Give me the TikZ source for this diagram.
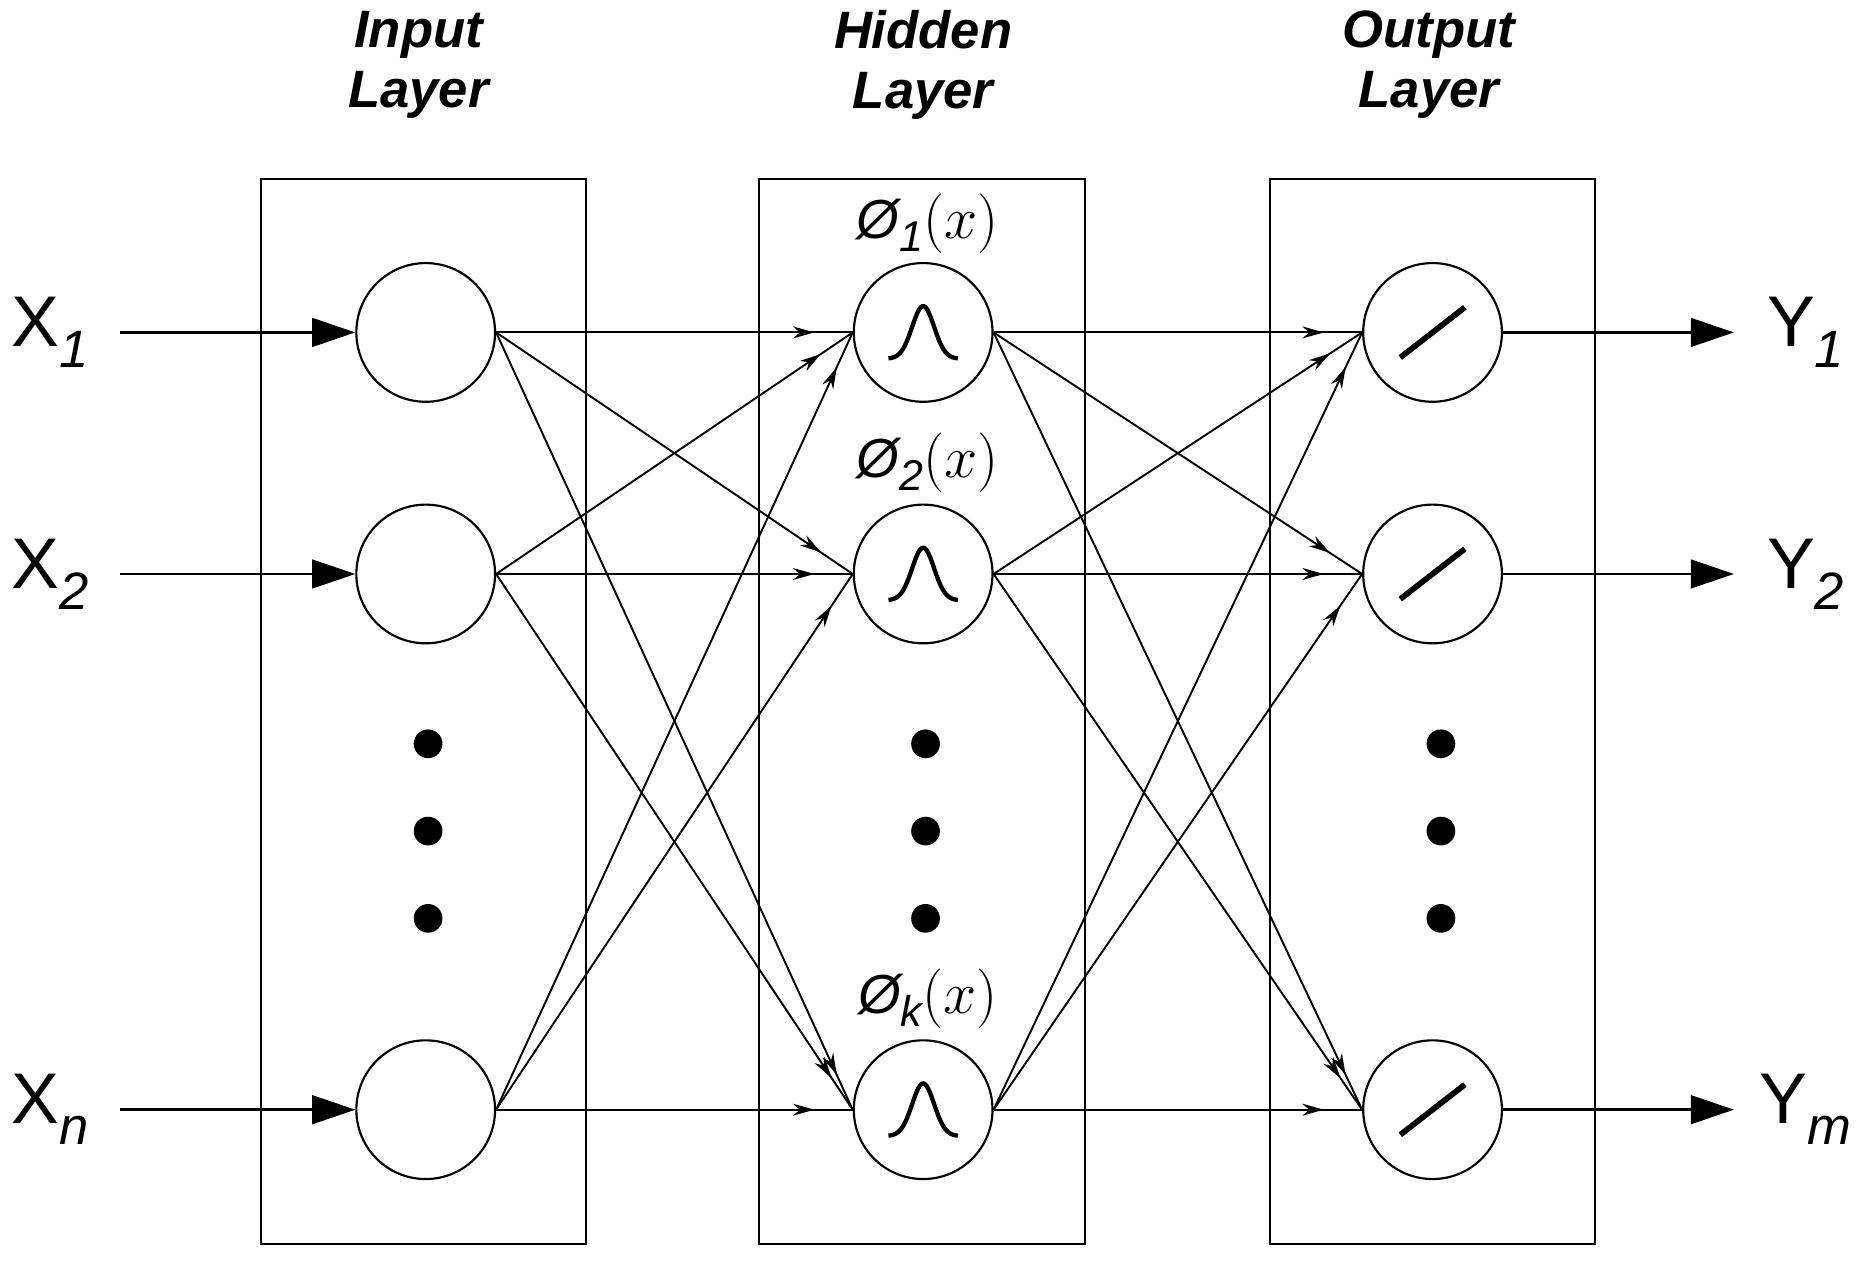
\documentclass[tikz,border=0pt]{standalone}
\usepackage{fontspec}
\setmainfont{Liberation Sans}
\usetikzlibrary{arrows.meta,decorations.markings}
\begin{document}
\begin{tikzpicture}[x=0.5pt,y=-0.5pt,
  neuron/.style={circle,draw,line width=0.9pt,minimum size=58pt,inner sep=0pt},
  layerbox/.style={draw,line width=0.9pt},
  conn/.style={line width=0.8pt,postaction={decorate},decoration={markings,mark=at position -16pt with {\arrow{Stealth[length=9pt,width=5pt]}}}},
  io/.style={line width=1pt,-{Triangle[length=18pt,width=12pt]}},
  title/.style={font=\fontsize{22}{25}\selectfont\bfseries\itshape,align=center},
  var/.style={font=\fontsize{30}{32}\selectfont},
  phi/.style={font=\fontsize{23}{26}\selectfont},
  dot/.style={circle,fill,inner sep=0pt,minimum size=12pt}]
\useasboundingbox (0,0) rectangle (1563,1054);
% boxes
\node[layerbox,minimum width=136pt,minimum height=445pt] (bi) at (354,595) {};
\node[layerbox,minimum width=136pt,minimum height=445pt] (bh) at (771,595) {};
\node[layerbox,minimum width=136pt,minimum height=445pt] (bo) at (1198,595) {};
% titles
\node[title] (ti) at (350,54) {Input\\Layer};
\node[title] (th) at (772,54) {Hidden\\Layer};
\node[title] (to) at (1195,54) {Output\\Layer};
% nodes
\foreach \n/\y in {1/278,2/480,3/928}{
  \node[neuron] (i\n) at (356,\y) {};
  \node[neuron] (h\n) at (772,\y) {};
  \node[neuron] (o\n) at (1198,\y) {};
  \draw[line width=1.8pt] plot[domain=-29:29,samples=50] ({772+\x},{\y+22-44*exp(-(\x/13)^2)});
  \draw[line width=2.4pt] (1198-27,\y+21) -- (1198+27,\y-21);
}
% dots
\foreach \c in {358,774,1205}{
  \foreach \y in {622,695,768} \node[dot] at (\c,\y) {};
}
% phi labels
\node[phi] (p1) at (776,187) {\textit{Ø\raisebox{-0.45ex}{\fontsize{18}{18}\selectfont 1}}$(x)$};
\node[phi] (p2) at (776,387) {\textit{Ø\raisebox{-0.45ex}{\fontsize{18}{18}\selectfont 2}}$(x)$};
\node[phi] (pk) at (776,835) {\textit{Ø\raisebox{-0.45ex}{\fontsize{18}{18}\selectfont k}}$(x)$};
% inputs
\foreach \n/\y/\s in {1/278/1,2/480/2,3/928/n}{
  \node[var] (x\n) at (42,\y) {X\raisebox{-0.55ex}{\fontsize{22}{22}\selectfont\itshape \s}};
  \coordinate (xs\n) at (100,\y);
  \draw[io] (xs\n) -- (i\n.west);
}
\foreach \n/\y/\s in {1/278/1,2/480/2,3/928/m}{
  \node[var] (y\n) at (1510,\y) {Y\raisebox{-0.55ex}{\fontsize{22}{22}\selectfont\itshape \s}};
  \coordinate (ye\n) at (1450,\y);
  \draw[io] (o\n.east) -- (ye\n);
}
% connections
\foreach \a in {1,2,3}{
  \foreach \b in {1,2,3}{
    \draw[conn] (i\a.east) -- (h\b.west);
    \draw[conn] (h\a.east) -- (o\b.west);
  }
}
\end{tikzpicture}
\end{document}
